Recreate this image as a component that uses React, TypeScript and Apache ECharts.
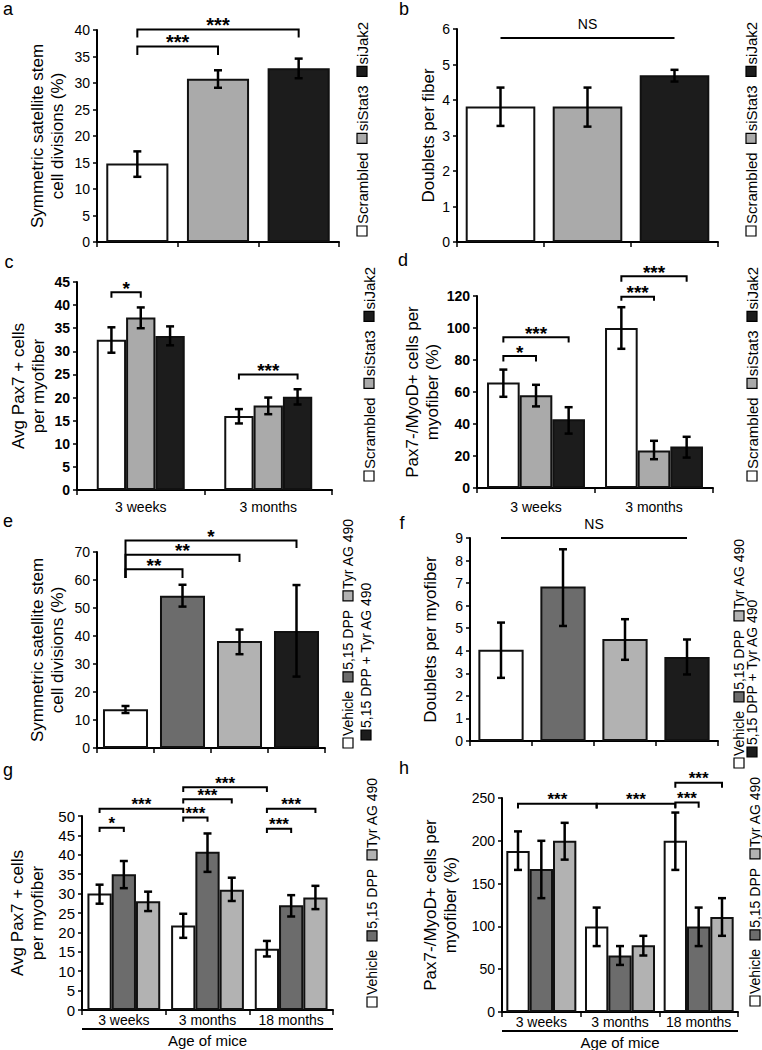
import React, { useEffect, useRef } from 'react';
import * as echarts from 'echarts';

const FONT = '"Liberation Sans", Arial, Helvetica, sans-serif';

// ---------------- categories / groups ----------------
const siGroups = ['Scrambled', 'siStat3', 'siJak2'];
const drugGroups4 = ['Vehicle', '5,15 DPP', 'Tyr AG 490', '5,15 DPP + Tyr AG 490'];
const drugGroups3 = ['Vehicle', '5,15 DPP', 'Tyr AG 490'];
const ages2 = ['3 weeks', '3 months'];
const ages3 = ['3 weeks', '3 months', '18 months'];

// ---------------- panel a ----------------
const aMean = [14.8, 30.8, 32.8];
const aLow = [12.3, 29.1, 30.9];
const aHigh = [17.1, 32.4, 34.6];
// [cat1, ser1, cat2, ser2, lineY, leg1Y, leg2Y]
const aSig = [[0, 0, 1, 0, 36.9, 35.3, 35.3], [0, 0, 2, 0, 40.1, 38.6, 38.6]];
const aSigText = ['***', '***'];

// ---------------- panel b ----------------
const bMean = [3.82, 3.82, 4.7];
const bLow = [3.27, 3.25, 4.52];
const bHigh = [4.35, 4.35, 4.85];
const bSig = [[0, 0, 2, 0, 5.75, 5.75, 5.75]];
const bSigText = ['NS'];

// ---------------- panel c (series x age) ----------------
const cMean = [[32.5, 16.0], [37.3, 18.3], [33.3, 20.2]];
const cLow = [[29.7, 14.4], [35.0, 16.4], [31.3, 18.5]];
const cHigh = [[35.2, 17.5], [39.5, 20.0], [35.4, 21.8]];
const cSig = [[0, 0, 0, 1, 42.8, 41.6, 41.6], [1, 0, 1, 2, 25.0, 23.9, 23.9]];
const cSigText = ['*', '***'];

// ---------------- panel d ----------------
const dMean = [[66, 100], [58, 23.5], [43, 26]];
const dLow = [[57, 87], [51, 18], [34, 19]];
const dHigh = [[74, 113], [64.5, 29.5], [50.5, 32]];
const dSig = [
  [0, 0, 0, 1, 82.5, 79, 79],
  [0, 0, 0, 2, 94.2, 90.9, 90.9],
  [1, 0, 1, 1, 119.5, 117, 117],
  [1, 0, 1, 2, 132.4, 128.9, 128.9],
];
const dSigText = ['*', '***', '***', '***'];

// ---------------- panel e ----------------
const eMean = [13.8, 54.4, 38.2, 41.8];
const eLow = [12.5, 50.5, 33.5, 25.5];
const eHigh = [15.0, 58.3, 42.3, 58.2];
const eSig = [
  [0, 0, 1, 0, 63.8, 60.7, 60.7],
  [0, 0, 2, 0, 69.0, 60.7, 66.4],
  [0, 0, 3, 0, 74.1, 60.7, 71.4],
];
const eSigText = ['**', '**', '*'];

// ---------------- panel f ----------------
const fMean = [4.05, 6.85, 4.52, 3.72];
const fLow = [2.8, 5.1, 3.6, 2.95];
const fHigh = [5.25, 8.5, 5.4, 4.5];
const fSig = [[0, 0, 3, 0, 9.0, 9.0, 9.0]];
const fSigText = ['NS'];

// ---------------- panel g (series x age) ----------------
const gMean = [[30, 21.8, 15.8], [35, 40.8, 27], [28, 31, 29]];
const gLow = [[27.4, 18.6, 13.8], [31.4, 35.6, 24.1], [25.5, 28.1, 26]];
const gHigh = [[32.3, 24.8, 17.8], [38.4, 45.5, 29.6], [30.5, 34.1, 32]];
const gSig = [
  [0, 0, 0, 1, 47.0, 45.9, 45.9],
  [0, 0, 1, 0, 51.9, 50.8, 50.8],
  [1, 0, 1, 1, 49.6, 48.5, 48.5],
  [1, 0, 1, 2, 54.3, 53.2, 53.2],
  [1, 0, 2, 0, 57.4, 56.2, 56.2],
  [2, 0, 2, 1, 46.7, 45.6, 45.6],
  [2, 0, 2, 2, 51.9, 50.8, 50.8],
];
const gSigText = ['*', '***', '***', '***', '***', '***', '***'];

// ---------------- panel h ----------------
const hMean = [[188, 100, 200], [167, 66, 100], [200, 78, 111]];
const hLow = [[166, 77, 166], [133, 55, 77], [178, 66, 89]];
const hHigh = [[211, 122, 233], [200, 77, 122], [221, 89, 133]];
const hSig = [
  [0, 0, 1, 0, 243.4, 237.6, 237.6],
  [1, 0, 2, 0, 243.4, 237.6, 237.6],
  [2, 0, 2, 1, 244.6, 238.7, 238.7],
  [2, 0, 2, 2, 267.7, 262, 262],
];
const hSigText = ['***', '***', '***', '***'];

// ---------------- styles ----------------
const siColors = ['#ffffff', '#aaaaaa', '#1c1c1c'];
const drugColors = ['#ffffff', '#6c6c6c', '#b2b2b2', '#1c1c1c'];

type Panel = {
  letter: string;
  letterXY: [number, number];
  grid: [number, number, number, number];
  cats: string[];
  groups: string[];
  colors: string[];
  grouped: boolean;
  mean: number[][];
  low: number[][];
  high: number[][];
  yMax: number;
  yStep: number;
  yName: string;
  nameGap: number;
  tickFont: number;
  boldTicks: boolean;
  gap: number;
  xLabelMargin: number;
  sig: number[][];
  sigText: string[];
  starFont: number;
  legend: { x: number; y: number; items: number[] }[];
  legendFont: number;
  ageLabel: boolean;
};

const panels: Panel[] = [
  {
    letter: 'a', letterXY: [8, 9], grid: [97, 30, 242, 212],
    cats: siGroups, groups: siGroups, colors: siColors, grouped: false,
    mean: [aMean], low: [aLow], high: [aHigh],
    yMax: 40, yStep: 5, yName: 'Symmetric satellite stem\ncell divisions (%)', nameGap: 30,
    tickFont: 14, boldTicks: false, gap: 0.23, xLabelMargin: 8,
    sig: aSig, sigText: aSigText, starFont: 20,
    legend: [{ x: 362, y: 236, items: [0, 1, 2] }], legendFont: 15, ageLabel: false,
  },
  {
    letter: 'b', letterXY: [404, 9], grid: [457, 29, 261, 213],
    cats: siGroups, groups: siGroups, colors: siColors, grouped: false,
    mean: [bMean], low: [bLow], high: [bHigh],
    yMax: 6, yStep: 1, yName: 'Doublets per fiber', nameGap: 19,
    tickFont: 14, boldTicks: false, gap: 0.2, xLabelMargin: 8,
    sig: bSig, sigText: bSigText, starFont: 20,
    legend: [{ x: 751, y: 236, items: [0, 1, 2] }], legendFont: 15, ageLabel: false,
  },
  {
    letter: 'c', letterXY: [9, 262], grid: [77, 282, 255, 208],
    cats: ages2, groups: siGroups, colors: siColors, grouped: true,
    mean: cMean, low: cLow, high: cHigh,
    yMax: 45, yStep: 5, yName: 'Avg Pax7 + cells\nper myofiber', nameGap: 29,
    tickFont: 14, boldTicks: true, gap: 0.31, xLabelMargin: 10,
    sig: cSig, sigText: cSigText, starFont: 19,
    legend: [{ x: 369, y: 481, items: [0, 1, 2] }], legendFont: 15, ageLabel: false,
  },
  {
    letter: 'd', letterXY: [403, 260], grid: [477, 296, 236, 192],
    cats: ages2, groups: siGroups, colors: siColors, grouped: true,
    mean: dMean, low: dLow, high: dHigh,
    yMax: 120, yStep: 20, yName: 'Pax7-/MyoD+ cells per\nmyofiber (%)', nameGap: 19,
    tickFont: 14, boldTicks: true, gap: 0.17, xLabelMargin: 12,
    sig: dSig, sigText: dSigText, starFont: 19,
    legend: [{ x: 752, y: 481, items: [0, 1, 2] }], legendFont: 15, ageLabel: false,
  },
  {
    letter: 'e', letterXY: [8, 521], grid: [97, 552, 228, 196],
    cats: drugGroups4, groups: drugGroups4, colors: drugColors, grouped: false,
    mean: [eMean], low: [eLow], high: [eHigh],
    yMax: 70, yStep: 10, yName: 'Symmetric satellite stem\ncell divisions (%)', nameGap: 30,
    tickFont: 14, boldTicks: false, gap: 0.21, xLabelMargin: 8,
    sig: eSig, sigText: eSigText, starFont: 19,
    legend: [{ x: 348, y: 748, items: [0, 1, 2] }, { x: 366, y: 740, items: [3] }], legendFont: 14, ageLabel: false,
  },
  {
    letter: 'f', letterXY: [402, 523], grid: [470, 538, 248, 203],
    cats: drugGroups4, groups: drugGroups4, colors: drugColors, grouped: false,
    mean: [fMean], low: [fLow], high: [fHigh],
    yMax: 9, yStep: 1, yName: 'Doublets per myofiber', nameGap: 30,
    tickFont: 14, boldTicks: false, gap: 0.27, xLabelMargin: 8,
    sig: fSig, sigText: fSigText, starFont: 20,
    legend: [{ x: 739, y: 768, items: [0, 1, 2] }, { x: 752, y: 757, items: [3] }], legendFont: 14, ageLabel: false,
  },
  {
    letter: 'g', letterXY: [8, 770], grid: [82, 816, 251, 194],
    cats: ages3, groups: drugGroups3, colors: drugColors, grouped: true,
    mean: gMean, low: gLow, high: gHigh,
    yMax: 50, yStep: 5, yName: 'Avg Pax7 + cells\nper myofiber', nameGap: 35,
    tickFont: 15, boldTicks: false, gap: 0.13, xLabelMargin: 3,
    sig: gSig, sigText: gSigText, starFont: 17,
    legend: [{ x: 372, y: 1007, items: [0, 1, 2] }], legendFont: 14, ageLabel: true,
  },
  {
    letter: 'h', letterXY: [404, 768], grid: [502, 798, 236, 214],
    cats: ages3, groups: drugGroups3, colors: drugColors, grouped: true,
    mean: hMean, low: hLow, high: hHigh,
    yMax: 250, yStep: 50, yName: 'Pax7-/MyoD+ cells per\nmyofiber (%)', nameGap: 42,
    tickFont: 14, boldTicks: false, gap: 0.11, xLabelMargin: 3,
    sig: hSig, sigText: hSigText, starFont: 17,
    legend: [{ x: 755, y: 1006, items: [0, 1, 2] }], legendFont: 14, ageLabel: true,
  },
];

let measureCtx: CanvasRenderingContext2D | null = null;
function textW(t: string, size: number): number {
  if (!measureCtx && typeof document !== 'undefined') {
    measureCtx = document.createElement('canvas').getContext('2d');
  }
  if (!measureCtx) return t.length * size * 0.52;
  measureCtx.font = `${size}px ${FONT}`;
  return measureCtx.measureText(t).width;
}

function barCenter(api: any, cat: number, ser: number, n: number, gap: number): number {
  const band = api.size([1, 0])[0];
  const groupW = band * (1 - gap);
  const bw = groupW / n;
  return api.coord([cat, 0])[0] - groupW / 2 + (ser + 0.5) * bw;
}

function buildPanel(idx: number, p: Panel) {
  const n = p.grouped ? p.groups.length : 1;
  const grid = { left: p.grid[0], top: p.grid[1], width: p.grid[2], height: p.grid[3] };
  const xAxis = {
    gridIndex: idx,
    type: 'category',
    data: p.cats,
    axisLine: { show: true, lineStyle: { color: '#000', width: 2 } },
    axisTick: { show: true, length: 5, interval: 0, alignWithLabel: false, lineStyle: { color: '#000', width: 1.5 } },
    axisLabel: { show: p.grouped, interval: 0, color: '#000', fontSize: 14, fontFamily: FONT, margin: p.xLabelMargin },
    splitLine: { show: false },
  };
  const yAxis = {
    gridIndex: idx,
    type: 'value',
    min: 0,
    max: p.yMax,
    interval: p.yStep,
    name: p.yName,
    nameLocation: 'middle',
    nameRotate: 90,
    nameGap: p.nameGap,
    nameTextStyle: { fontSize: 17, fontFamily: FONT, color: '#000', lineHeight: 20 },
    axisLine: { show: true, onZero: false, lineStyle: { color: '#000', width: 2 } },
    axisTick: { show: true, length: 4, lineStyle: { color: '#000', width: 1.5 } },
    axisLabel: {
      color: '#000', fontSize: p.tickFont, fontFamily: FONT,
      fontWeight: p.boldTicks ? 'bold' : 'normal', margin: 7,
    },
    splitLine: { show: false },
  };

  const series: any[] = [];
  const gapPct = `${Math.round(p.gap * 100)}%`;
  if (p.grouped) {
    p.groups.forEach((g, s) => {
      series.push({
        type: 'bar', name: g, xAxisIndex: idx, yAxisIndex: idx,
        data: p.mean[s], barGap: '0%', barCategoryGap: gapPct,
        itemStyle: { color: p.colors[s], borderColor: '#111', borderWidth: 2 },
        silent: true,
      });
    });
  } else {
    series.push({
      type: 'bar', name: p.letter, xAxisIndex: idx, yAxisIndex: idx,
      data: p.mean[0].map((v, i) => ({ value: v, itemStyle: { color: p.colors[i] } })),
      barGap: '0%', barCategoryGap: gapPct,
      itemStyle: { borderColor: '#111', borderWidth: 2 },
      silent: true,
    });
  }

  // error bars
  const errData: number[][] = [];
  p.mean.forEach((row, s) => row.forEach((_v, c) => {
    errData.push(p.grouped ? [c, s, p.low[s][c], p.high[s][c]] : [c, 0, p.low[0][c], p.high[0][c]]);
  }));
  series.push({
    type: 'custom', xAxisIndex: idx, yAxisIndex: idx, data: errData, z: 10, clip: false, silent: true,
    encode: { x: 0, y: [2, 3] },
    renderItem: (_params: any, api: any) => {
      const cat = api.value(0), ser = api.value(1);
      const x = barCenter(api, cat, ser, n, p.gap);
      const y1 = api.coord([cat, api.value(2)])[1];
      const y2 = api.coord([cat, api.value(3)])[1];
      const cap = 4;
      const st = { stroke: '#000', lineWidth: 2.5 };
      return {
        type: 'group',
        children: [
          { type: 'line', shape: { x1: x, y1, x2: x, y2 }, style: st },
          { type: 'line', shape: { x1: x - cap, y1, x2: x + cap, y2: y1 }, style: st },
          { type: 'line', shape: { x1: x - cap, y1: y2, x2: x + cap, y2 }, style: st },
        ],
      };
    },
  });

  // significance brackets
  series.push({
    type: 'custom', xAxisIndex: idx, yAxisIndex: idx, data: p.sig, z: 11, clip: false, silent: true,
    encode: { x: [0, 2], y: [4, 5, 6] },
    renderItem: (params: any, api: any) => {
      const c1 = api.value(0), s1 = api.value(1), c2 = api.value(2), s2 = api.value(3);
      const x1 = barCenter(api, c1, s1, n, p.gap);
      const x2 = barCenter(api, c2, s2, n, p.gap);
      const y = api.coord([c1, api.value(4)])[1];
      const yl1 = api.coord([c1, api.value(5)])[1];
      const yl2 = api.coord([c1, api.value(6)])[1];
      const label = p.sigText[params.dataIndex];
      const isNS = label === 'NS';
      return {
        type: 'group',
        children: [
          {
            type: 'polyline',
            shape: { points: [[x1, yl1], [x1, y], [x2, y], [x2, yl2]] },
            style: { stroke: '#000', lineWidth: 2, fill: null },
          },
          {
            type: 'text',
            x: (x1 + x2) / 2,
            y: isNS ? y - 14 : y - 4,
            style: {
              text: label,
              textAlign: 'center',
              textVerticalAlign: 'middle',
              fontSize: isNS ? 14 : p.starFont,
              lineHeight: isNS ? 14 : 10,
              fontWeight: isNS ? 'normal' : 'bold',
              fontFamily: FONT,
              fill: '#000',
            },
          },
        ],
      };
    },
  });

  // graphics: panel letter, legend, age label
  const graphics: any[] = [];
  graphics.push({
    type: 'text', x: p.letterXY[0], y: p.letterXY[1],
    style: { text: p.letter, fontSize: 18, fontFamily: FONT, fill: '#000', textAlign: 'center', textVerticalAlign: 'middle' },
  });
  p.legend.forEach((ln) => {
    const children: any[] = [];
    let cx = 0;
    ln.items.forEach((it) => {
      const nm = p.groups[it];
      children.push({
        type: 'rect', shape: { x: cx, y: -5, width: 10, height: 10 },
        style: { fill: p.colors[it], stroke: '#000', lineWidth: 1.2 },
      });
      children.push({
        type: 'text', x: cx + 12, y: 0,
        style: {
          text: nm, textAlign: 'left', textVerticalAlign: 'middle',
          fontSize: p.legendFont, fontFamily: FONT, fill: '#000',
        },
      });
      cx += 12 + textW(nm, p.legendFont) + 9;
    });
    graphics.push({ type: 'group', x: ln.x, y: ln.y, rotation: Math.PI / 2, children });
  });
  if (p.ageLabel) {
    const lx = p.grid[0], rx = p.grid[0] + p.grid[2];
    const by = p.grid[1] + p.grid[3];
    graphics.push({
      type: 'line', shape: { x1: lx, y1: by + 19, x2: rx, y2: by + 19 },
      style: { stroke: '#000', lineWidth: 2 },
    });
    graphics.push({
      type: 'text', x: (lx + rx) / 2, y: by + 30,
      style: { text: 'Age of mice', fontSize: 15, fontFamily: FONT, fill: '#000', textAlign: 'center', textVerticalAlign: 'middle' },
    });
  }
  return { grid, xAxis, yAxis, series, graphics };
}

export default function App() {
  const ref = useRef<HTMLDivElement>(null);
  useEffect(() => {
    document.body.style.margin = '0';
    if (!ref.current) return;
    const chart = echarts.init(ref.current, undefined, { renderer: 'svg' });
    const grids: any[] = [], xAxes: any[] = [], yAxes: any[] = [], series: any[] = [], graphic: any[] = [];
    panels.forEach((p, i) => {
      const b = buildPanel(i, p);
      grids.push(b.grid);
      xAxes.push(b.xAxis);
      yAxes.push(b.yAxis);
      series.push(...b.series);
      graphic.push(...b.graphics);
    });
    chart.setOption({
      animation: false,
      backgroundColor: '#ffffff',
      textStyle: { fontFamily: FONT },
      grid: grids,
      xAxis: xAxes,
      yAxis: yAxes,
      series,
      graphic,
    });
    return () => chart.dispose();
  }, []);
  return <div ref={ref} style={{ width: 762, height: 1050 }} />;
}
